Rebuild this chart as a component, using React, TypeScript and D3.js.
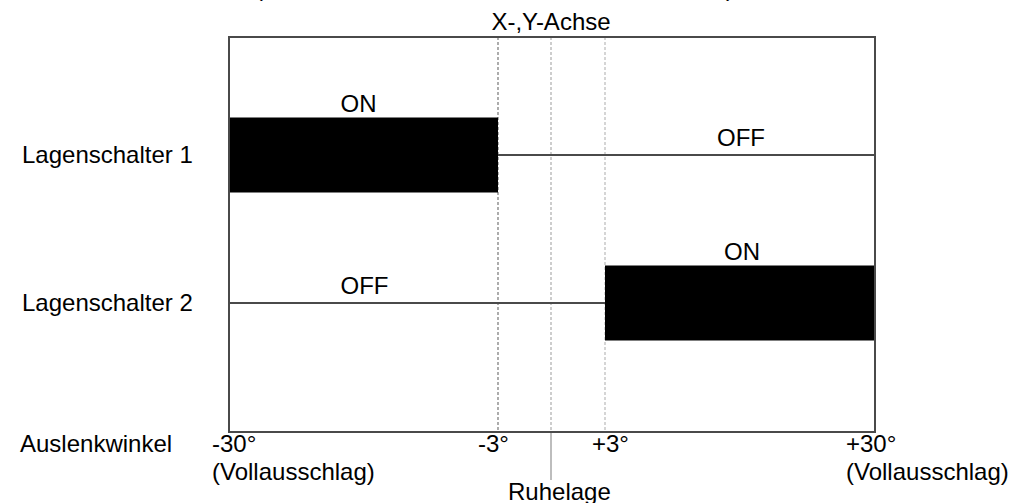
import * as React from "react";
import * as d3 from "d3";

// angle ticks (degrees) and their labels
const tickAngles = [-30, -3, 0, 3, 30];
const tickLabels = ["-30°", "-3°", "", "+3°", "+30°"];
const tickSubLabels = ["(Vollausschlag)", "", "", "", "(Vollausschlag)"];

// switch rows
const rows = ["Lagenschalter 1", "Lagenschalter 2"];
// ON range per switch, in degrees
const onFrom = [-30, 3];
const onTo = [-3, 30];
// OFF range per switch
const offFrom = [-3, -30];
const offTo = [30, 3];
// label anchor angles
const onLabelAt = [-17, 16.7];
const offLabelAt = [16.6, -16.4];

const W = 1021;
const H = 503;
const FONT = "'Liberation Sans', Arial, Helvetica, sans-serif";
const FS = 24;

export default function App() {
  const top = 37;
  const bottom = 432;

  // the drawing stretches the +-3° zone, so the scale is piecewise
  const x = d3.scaleLinear().domain(tickAngles).range([229, 498, 551, 605, 875]);
  const y = d3.scalePoint<string>().domain(rows).range([155, 303]);
  const barH = 75;

  // label offsets relative to the tick (start-anchored text)
  const tickDx = [-17, -20, 0, -13, -29];

  return (
    <svg width={W} height={H} style={{ position: "absolute", left: 0, top: 0, background: "#fff" }}
      fontFamily={FONT} fontSize={FS}>
      {/* line above, cut off by the top edge as in the source */}
      <text x={255} y={-4} fill="#000">(</text>
      <text x={726} y={-4} fill="#000">)</text>

      <text x={x(0)} y={30} textAnchor="middle" fill="#000">X-,Y-Achse</text>

      {/* guide lines */}
      <line x1={x(-3)} x2={x(-3)} y1={top} y2={bottom} stroke="#8a8a8a" strokeWidth={1.4} strokeDasharray="3,2" />
      <line x1={x(0)} x2={x(0)} y1={top} y2={bottom} stroke="#b8b8b8" strokeWidth={1.4} strokeDasharray="3,2" />
      <line x1={x(3)} x2={x(3)} y1={top} y2={bottom} stroke="#c4c4c4" strokeWidth={1.4} strokeDasharray="3,2" />
      <line x1={x(0)} x2={x(0)} y1={bottom} y2={480} stroke="#bdbdbd" strokeWidth={2} />

      {/* switches */}
      {rows.map((r, i) => {
        const cy = y(r) as number;
        return (
          <g key={r}>
            <text x={22} y={cy + 8} fill="#000">{r}</text>
            <rect x={x(onFrom[i])} y={cy - barH / 2} width={x(onTo[i]) - x(onFrom[i])} height={barH} fill="#000" />
            <line x1={x(offFrom[i])} x2={x(offTo[i])} y1={cy} y2={cy} stroke="#4a4a4a" strokeWidth={2} />
            <text x={x(onLabelAt[i])} y={cy - barH / 2 - 6} textAnchor="middle" fill="#000">ON</text>
            <text x={x(offLabelAt[i])} y={cy - 9} textAnchor="middle" fill="#000">OFF</text>
          </g>
        );
      })}

      {/* frame */}
      <rect x={x(-30)} y={top} width={x(30) - x(-30)} height={bottom - top} fill="none" stroke="#4a4a4a" strokeWidth={2} />

      {/* axis labels */}
      <text x={20} y={452} fill="#000">Auslenkwinkel</text>
      {tickAngles.map((a, i) => (
        <g key={a}>
          {tickLabels[i] && <text x={x(a) + tickDx[i]} y={452} fill="#000">{tickLabels[i]}</text>}
          {tickSubLabels[i] && <text x={x(a) + tickDx[i]} y={480} fill="#000">{tickSubLabels[i]}</text>}
        </g>
      ))}
      <text x={x(0) - 43} y={500} fill="#000">Ruhelage</text>
    </svg>
  );
}
